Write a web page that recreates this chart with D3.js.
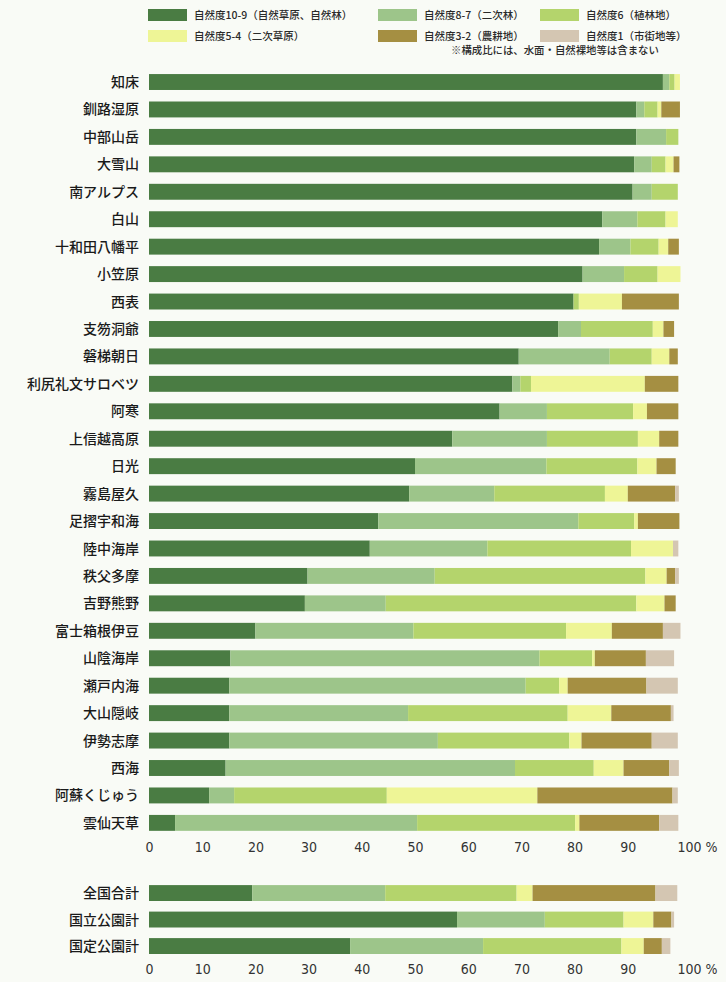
<!DOCTYPE html>
<html>
<head>
<meta charset="utf-8">
<script src="https://cdn.jsdelivr.net/npm/d3@7"></script>
<style>
  body { margin: 0; background: #f9fbf6; }
  svg { display: block; }
  .cat text { font-family: "Noto Sans CJK JP", sans-serif; font-size: 14px; font-weight: 500; fill: #1a1a1a; }
  .axis text { font-family: "Liberation Sans Narrow", "DejaVu Sans Condensed", sans-serif; font-size: 14px; fill: #333; }
  .legend text { font-family: "Noto Sans CJK JP", sans-serif; font-size: 10.5px; font-weight: 500; fill: #2a2a2a; }
</style>
</head>
<body>
<div id="chart"></div>
<script>
const parks = ['知床', '釧路湿原', '中部山岳', '大雪山', '南アルプス', '白山', '十和田八幡平', '小笠原',
  '西表', '支笏洞爺', '磐梯朝日', '利尻礼文サロベツ', '阿寒', '上信越高原', '日光', '霧島屋久',
  '足摺宇和海', '陸中海岸', '秩父多摩', '吉野熊野', '富士箱根伊豆', '山陰海岸', '瀬戸内海',
  '大山隠岐', '伊勢志摩', '西海', '阿蘇くじゅう', '雲仙天草'];

// 構成比 (%) by naturalness grade, one value per park
const v109 = [96.6, 91.6, 91.6, 91.2, 90.9, 85.2, 84.6, 81.5, 79.8, 76.9, 69.5, 68.3, 65.9, 57.0,
  50.0, 48.9, 43.1, 41.5, 29.8, 29.3, 20.0, 15.3, 15.1, 15.1, 15.1, 14.4, 11.3, 4.9];
const v87 = [1.2, 1.5, 5.6, 3.3, 3.6, 6.6, 5.9, 7.8, 0, 4.3, 17.1, 1.5, 8.9, 17.8,
  24.7, 16.0, 37.6, 22.1, 23.9, 15.2, 29.7, 58.1, 55.7, 33.6, 39.2, 54.4, 4.7, 45.5];
const v6 = [1.0, 2.5, 2.3, 2.6, 4.9, 5.3, 5.3, 6.3, 1.0, 13.5, 7.9, 2.0, 16.2, 17.1,
  17.1, 20.8, 10.5, 27.0, 39.6, 47.1, 28.7, 9.9, 6.3, 30.0, 24.7, 14.8, 28.7, 29.7];
const v54 = [1.0, 0.7, 0, 1.5, 0, 2.3, 1.8, 4.3, 8.1, 2.0, 3.3, 21.4, 2.6, 4.0,
  3.6, 4.3, 0.7, 7.9, 4.0, 5.3, 8.6, 0.5, 1.6, 8.2, 2.3, 5.6, 28.3, 0.8];
const v32 = [0, 3.5, 0, 1.1, 0, 0, 2.0, 0, 10.7, 2.0, 1.6, 6.3, 5.9, 3.6,
  3.6, 8.9, 7.8, 0, 1.6, 2.1, 9.6, 9.6, 14.8, 11.2, 13.2, 8.6, 25.4, 15.0];
const v1 = [0, 0, 0, 0, 0, 0, 0, 0, 0, 0, 0, 0, 0, 0,
  0, 0.7, 0, 1.0, 0.7, 0, 3.3, 5.3, 5.9, 0.5, 4.9, 1.8, 1.0, 3.6];

const totals = ['全国合計', '国立公園計', '国定公園計'];
const t109 = [19.4, 57.9, 37.8];
const t87 = [25.0, 16.5, 25.0];
const t6 = [24.7, 14.8, 26.0];
const t54 = [3.0, 5.6, 4.2];
const t32 = [23.1, 3.4, 3.4];
const t1 = [4.1, 0.5, 1.6];

const ticks = [0, 10, 20, 30, 40, 50, 60, 70, 80, 90, 100];

const keys = ['g109', 'g87', 'g6', 'g54', 'g32', 'g1'];
const legendLabels = ['自然度10-9（自然草原、自然林）', '自然度8-7（二次林）', '自然度6（植林地）',
  '自然度5-4（二次草原）', '自然度3-2（農耕地）', '自然度1（市街地等）'];
const colors = ['#4a7c43', '#9dc58a', '#b4d46c', '#eef596', '#a58f42', '#d4c6b2'];

const width = 726;
const height = 982;

const svg = d3.select('#chart')
  .append('svg')
  .attr('width', width)
  .attr('height', height);

svg.append('rect').attr('width', width).attr('height', height).attr('fill', '#f9fbf6');

const x = d3.scaleLinear().domain([0, 100]).range([149, 681]);
const color = d3.scaleOrdinal().domain(keys).range(colors);
const stack = d3.stack().keys(keys);

function rows(names, cols) {
  return names.map((name, i) => {
    const r = { name };
    keys.forEach((k, j) => { r[k] = cols[j][i]; });
    return r;
  });
}

function drawBlock(names, cols, y, axisY) {
  const data = rows(names, cols);
  const g = svg.append('g');

  g.selectAll('.layer')
    .data(stack(data))
    .join('g')
    .attr('class', 'layer')
    .attr('fill', (d) => color(d.key))
    .selectAll('rect')
    .data((d) => d)
    .join('rect')
    .attr('x', (d) => x(d[0]))
    .attr('y', (d) => y(d.data.name))
    .attr('width', (d) => Math.max(0, x(d[1]) - x(d[0])))
    .attr('height', y.bandwidth());

  g.append('g')
    .attr('class', 'cat')
    .selectAll('text')
    .data(names)
    .join('text')
    .attr('x', 139)
    .attr('y', (d) => y(d) + y.bandwidth() / 2)
    .attr('dy', '0.36em')
    .attr('text-anchor', 'end')
    .text((d) => d);

  const axis = g.append('g')
    .attr('class', 'axis')
    .attr('transform', `translate(0, ${axisY})`)
    .call(d3.axisBottom(x).tickValues(ticks).tickSize(0).tickPadding(0)
      .tickFormat((d) => (d === 100 ? '100 %' : d)));
  axis.select('.domain').remove();
  axis.selectAll('text').attr('font-family', null).attr('font-size', null);
  axis.selectAll('.tick').filter((d) => d === 100)
    .select('text').attr('text-anchor', 'start').attr('dx', -4);
}

const yParks = d3.scaleBand().domain(parks).range([68.3, 836.6])
  .paddingInner(0.42).paddingOuter(0.21);
drawBlock(parks, [v109, v87, v6, v54, v32, v1], yParks, 842);

const yTotals = d3.scaleBand().domain(totals).range([879.8, 959.3])
  .paddingInner(0.4).paddingOuter(0.2);
drawBlock(totals, [t109, t87, t6, t54, t32, t1], yTotals, 964);

// legend
const legendX = [148, 378, 540];
const legendY = [9, 30];
const legend = svg.append('g').attr('class', 'legend');
const item = legend.selectAll('g')
  .data(keys)
  .join('g')
  .attr('transform', (d, i) => `translate(${legendX[i % 3]}, ${legendY[Math.floor(i / 3)]})`);
item.append('rect')
  .attr('width', 39)
  .attr('height', 12)
  .attr('fill', (d) => color(d));
item.append('text')
  .attr('x', 46)
  .attr('y', 6)
  .attr('dy', '0.36em')
  .text((d, i) => legendLabels[i]);

legend.append('text')
  .attr('x', 451)
  .attr('y', 50)
  .attr('dy', '0.36em')
  .style('font-size', '10.4px')
  .text('※構成比には、水面・自然裸地等は含まない');
</script>
</body>
</html>
